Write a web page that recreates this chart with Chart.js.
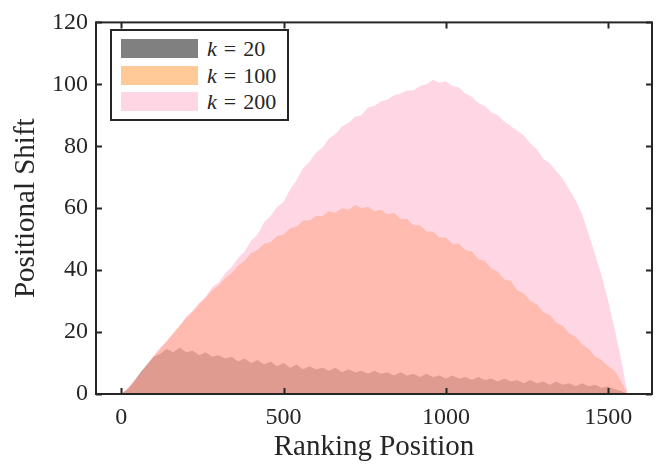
<!DOCTYPE html>
<html>
<head>
<meta charset="utf-8">
<script src="https://cdn.jsdelivr.net/npm/chart.js@4.4.1/dist/chart.umd.min.js"></script>
<style>
  html, body { margin: 0; padding: 0; background: #fff; }
  .wrap { position: relative; width: 661px; height: 468px; }
  .legend { position: absolute; left: 110px; top: 29px; width: 175px; height: 88px; border: 2px solid #262626; background: #fff; font-family: 'Liberation Serif', serif; font-size: 22px; color: #262626; }
  .legend-item { position: absolute; left: 9px; height: 19px; display: flex; align-items: center; }
  .legend-swatch { width: 77px; height: 19px; margin-right: 9px; }
  .legend-item i { margin-right: 7px; }
  .legend-item .eq { margin-right: 7px; }
</style>
</head>
<body>
<div class="wrap">
  <canvas id="c" width="661" height="468"></canvas>
  <div class="legend">
    <span class="legend-item" style="top:8px"><span class="legend-swatch" style="background:#808080"></span><i>k</i><span class="eq">=</span>20</span>
    <span class="legend-item" style="top:35px"><span class="legend-swatch" style="background:#ffc998"></span><i>k</i><span class="eq">=</span>100</span>
    <span class="legend-item" style="top:61px"><span class="legend-swatch" style="background:#ffd6e4"></span><i>k</i><span class="eq">=</span>200</span>
  </div>
</div>
<script>
const positions = [0, 20, 40, 60, 80, 100, 120, 140, 160, 180, 200, 220, 240, 260, 280, 300, 320, 340, 360, 380,
  400, 420, 440, 460, 480, 500, 520, 540, 560, 580, 600, 620, 640, 660, 680, 700, 720, 740, 760, 780,
  800, 820, 840, 860, 880, 900, 920, 940, 960, 980, 1000, 1020, 1040, 1060, 1080, 1100, 1120, 1140, 1160, 1180,
  1200, 1220, 1240, 1260, 1280, 1300, 1320, 1340, 1360, 1380, 1400, 1420, 1440, 1460, 1480, 1500, 1520, 1540, 1560];

const shiftK20 = [0, 1.5, 4, 7, 9.5, 12, 13, 14.5, 13.5, 15, 13.5, 14, 12.5, 13.5, 12, 12.5, 11.5, 12, 10.5, 11.5,
  10, 11, 9.5, 10.5, 9, 10, 8.5, 9.5, 8, 9, 8, 8.5, 7.5, 8.5, 7, 8, 7, 7.5, 6.5, 7.5,
  6.5, 7, 6, 7, 6, 6.5, 5.5, 6.5, 5.5, 6, 5, 6, 5, 5.5, 4.5, 5.5, 4.5, 5, 4, 5,
  4, 4.5, 3.5, 4.5, 3.5, 4, 3, 4, 3, 3.5, 2.5, 3.5, 2.5, 3, 2, 2.5, 1.5, 1, 0];

const shiftK100 = [0, 1.5, 4, 6.5, 9.5, 12, 14.5, 17, 19.5, 22, 24.5, 26.5, 29, 31, 33.5, 35, 37.5, 39, 41.5, 43,
  45.5, 46.5, 48.5, 49, 51, 51.5, 53.5, 54, 56, 56, 57.5, 57.5, 59, 58.5, 60, 59.5, 61, 60, 60.5, 59,
  59.5, 58, 58.5, 56.5, 56.5, 54.5, 54.5, 52.5, 52.5, 50.5, 50.5, 48.5, 48.5, 46.5, 46, 43.5, 43, 40.5, 39.5, 37,
  36.5, 33.5, 32.5, 30, 29, 26.5, 25.5, 23, 22, 19.5, 18.5, 16, 14.5, 12, 11, 9, 7.5, 4, 0];

const shiftK200 = [0, 2, 4.5, 7, 9.5, 12.5, 15, 17, 19.5, 22, 25, 27, 29.5, 31.5, 34.5, 36, 39, 41, 44, 46,
  49.5, 51.5, 55.5, 57.5, 60.5, 62, 66, 69, 73, 75, 78, 79.5, 82.5, 84, 86.5, 87.5, 89.5, 90, 92.5, 93,
  94.5, 95, 96.5, 97, 98, 98, 99.5, 100, 101.5, 100.5, 101, 99.5, 99, 97, 96, 94, 93, 91, 90, 88,
  86.5, 85, 83.5, 81, 79, 76, 74.5, 72, 69.5, 66, 62.5, 58, 51.5, 45, 38, 30, 21, 11, 0];

const xTicks = [0, 500, 1000, 1500];
const yTicks = [0, 20, 40, 60, 80, 100, 120];

const INK = '#262626';
const FONT = 'Liberation Serif';

const pts = ys => positions.map((x, i) => ({ x, y: ys[i] }));
const area = (label, ys, color, order) => ({
  label, data: pts(ys), backgroundColor: color, borderWidth: 0,
  pointRadius: 0, fill: 'origin', tension: 0, order
});

// box round the plot with inward ticks on all four sides
const frame = {
  id: 'frame',
  afterDatasetsDraw(chart) {
    const { ctx, chartArea: a, scales: { x, y } } = chart;
    ctx.save();
    ctx.strokeStyle = INK;
    ctx.lineWidth = 2;
    ctx.strokeRect(a.left, a.top, a.right - a.left, a.bottom - a.top);
    ctx.beginPath();
    xTicks.forEach(v => {
      const px = Math.round(x.getPixelForValue(v)) + 0.5;
      ctx.moveTo(px, a.bottom); ctx.lineTo(px, a.bottom - 6);
      ctx.moveTo(px, a.top); ctx.lineTo(px, a.top + 6);
    });
    yTicks.forEach(v => {
      const py = Math.round(y.getPixelForValue(v)) + 0.5;
      ctx.moveTo(a.left, py); ctx.lineTo(a.left + 6, py);
      ctx.moveTo(a.right, py); ctx.lineTo(a.right - 6, py);
    });
    ctx.stroke();
    ctx.restore();
  }
};

new Chart(document.getElementById('c'), {
  type: 'line',
  data: {
    datasets: [
      area('k = 20', shiftK20, 'rgba(0,0,0,0.5)', 3),
      area('k = 100', shiftK100, 'rgba(255,147,49,0.5)', 2),
      area('k = 200', shiftK200, 'rgba(255,173,201,0.5)', 1)
    ]
  },
  options: {
    responsive: false, animation: false,
    layout: { padding: { left: 0, top: 16, right: 9, bottom: 0 } },
    plugins: { legend: { display: false }, tooltip: { enabled: false } },
    scales: {
      x: {
        type: 'linear', min: -78, max: 1635,
        afterBuildTicks: s => { s.ticks = xTicks.map(v => ({ value: v })); },
        afterFit: s => { s.height = 74; },
        grid: { display: false, drawTicks: false }, border: { display: false },
        ticks: { color: INK, padding: 9, maxRotation: 0, callback: v => String(v), font: { family: FONT, size: 24 } },
        title: { display: true, text: 'Ranking Position', color: INK, padding: { top: 0, bottom: 3 }, font: { family: FONT, size: 29 } }
      },
      y: {
        min: 0, max: 120,
        afterBuildTicks: s => { s.ticks = yTicks.map(v => ({ value: v })); },
        afterFit: s => { s.width = 96; },
        grid: { display: false, drawTicks: false }, border: { display: false },
        ticks: { color: INK, padding: 8, callback: v => String(v), font: { family: FONT, size: 24 } },
        title: { display: true, text: 'Positional Shift', color: INK, padding: { top: 9, bottom: 0 }, font: { family: FONT, size: 29 } }
      }
    }
  },
  plugins: [frame]
});
</script>
</body>
</html>
